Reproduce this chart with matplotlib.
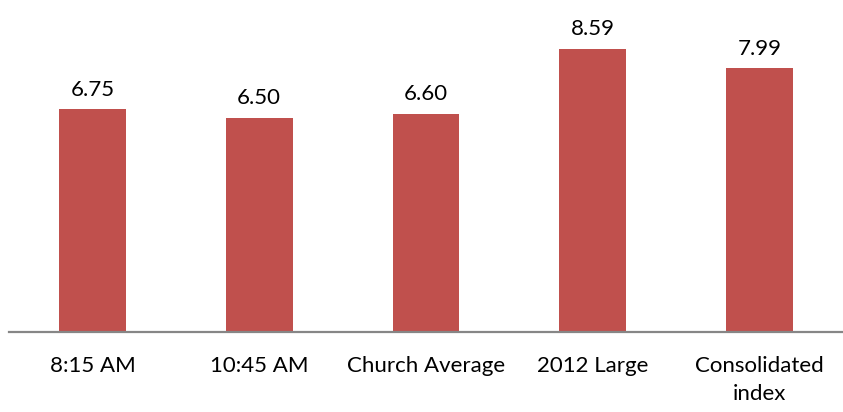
import matplotlib
matplotlib.use("Agg")
import matplotlib.pyplot as plt

categories = ["8:15 AM", "10:45 AM", "Church Average", "2012 Large", "Consolidated\nindex"]
values = [6.75, 6.50, 6.60, 8.59, 7.99]
value_labels = ["6.75", "6.50", "6.60", "8.59", "7.99"]

plt.rcParams["font.family"] = ["Lato", "DejaVu Sans"]

fig = plt.figure(figsize=(8.43, 4.12), dpi=100)
ax = fig.add_axes([9 / 843, 80 / 412, 834 / 843, 330 / 412])

x = range(len(categories))
bars = ax.bar(x, values, width=0.4, color="#C0504D", edgecolor="none")

for xi, v, lab in zip(x, values, value_labels):
    ax.annotate(lab, (xi, v), xytext=(0, 7), textcoords="offset points",
                ha="center", va="bottom", fontsize=16, color="#000000")

ax.set_xlim(-0.5, len(categories) - 0.5)
ax.set_ylim(0, 10)
ax.set_xticks(list(x))
ax.set_xticklabels(categories, fontsize=16, linespacing=1.5, va="top")
ax.tick_params(axis="x", length=0, pad=17)
ax.set_yticks([])
for side in ["left", "right", "top"]:
    ax.spines[side].set_visible(False)
ax.spines["bottom"].set_color("#868686")
ax.spines["bottom"].set_linewidth(1.6)

fig.savefig("out.png", dpi=100)
